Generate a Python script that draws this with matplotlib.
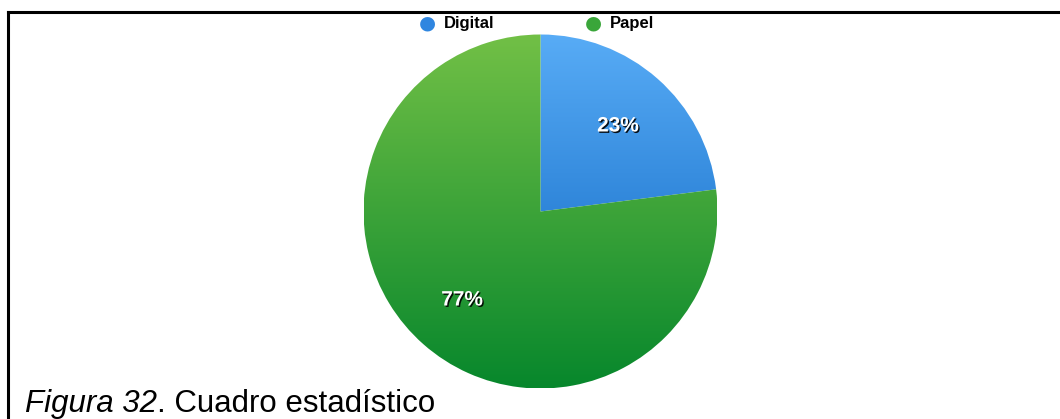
import numpy as np
import matplotlib.pyplot as plt
import matplotlib.patheffects as pe
from matplotlib.colors import LinearSegmentedColormap
from matplotlib.lines import Line2D

categories = ['Digital', 'Papel']
shares = [23, 77]
top_colors = ['#58acf6', '#72c046']
bottom_colors = ['#0760be', '#07872c']
marker_colors = ['#2f86e0', '#3aa63a']
caption_parts = [('Figura 32', 'italic'), ('. Cuadro estadístico', 'normal')]

fig = plt.figure(figsize=(10.6, 4.19), dpi=100)
W, H = 1060, 419

# frame lines (top and left)
fig.add_artist(Line2D([8 / W, 1], [1 - 12 / H, 1 - 12 / H], color='black', lw=2.2))
fig.add_artist(Line2D([8 / W, 8 / W], [0, 1 - 12 / H], color='black', lw=2.2))

# pie axes: centre (540, 211), radius ~177 px
r = 177
cx, cy = 540.5, 211.5
ax = fig.add_axes([(cx - r) / W, 1 - (cy + r) / H, 2 * r / W, 2 * r / H])

wedges, _ = ax.pie(shares, startangle=90, counterclock=False, radius=1,
                   colors=['none', 'none'], wedgeprops={'linewidth': 0})
ax.set_aspect('equal')
ax.axis('off')

# vertical gradient fill, clipped to each wedge
grad = np.linspace(1, 0, 256).reshape(-1, 1)
for w, c0, c1 in zip(wedges, top_colors, bottom_colors):
    cmap = LinearSegmentedColormap.from_list('g', [c1, c0])
    im = ax.imshow(grad, cmap=cmap, extent=[-1, 1, -1, 1], aspect='auto',
                   vmin=0, vmax=1, interpolation='bilinear', zorder=1)
    im.set_clip_path(w)
ax.set_xlim(-1, 1)
ax.set_ylim(-1, 1)

# percentage labels
shadow = [pe.withSimplePatchShadow(offset=(1, -1), shadow_rgbFace='black', alpha=0.9)]
label_pos = [((618 - cx) / r, (cy - 126) / r), ((462 - cx) / r, (cy - 300) / r)]
for (x, y), v in zip(label_pos, shares):
    ax.text(x, y, f'{v}%', color='white', fontsize=15, fontweight='bold',
            ha='center', va='center', family='Liberation Sans',
            path_effects=shadow, zorder=3)

# legend row
legend_x = [427, 593]
for lx, name, mc in zip(legend_x, categories, marker_colors):
    fig.text(lx / W, 1 - 23 / H, '\u25cf', color=mc, fontsize=14,
             ha='center', va='center')
    fig.text((lx + 17) / W, 1 - 23.5 / H, name, color='black', fontsize=12,
             fontweight='bold', ha='left', va='center', family='Liberation Sans')

# caption: italic figure number followed by plain title
renderer = fig.canvas.get_renderer()
x = 25
for txt, st in caption_parts:
    t = fig.text(x / W, 1 - 412 / H, txt, style=st, fontsize=22.5,
                 family='Liberation Sans', va='baseline', ha='left')
    x += t.get_window_extent(renderer).width

fig.savefig('out.png', dpi=100)
